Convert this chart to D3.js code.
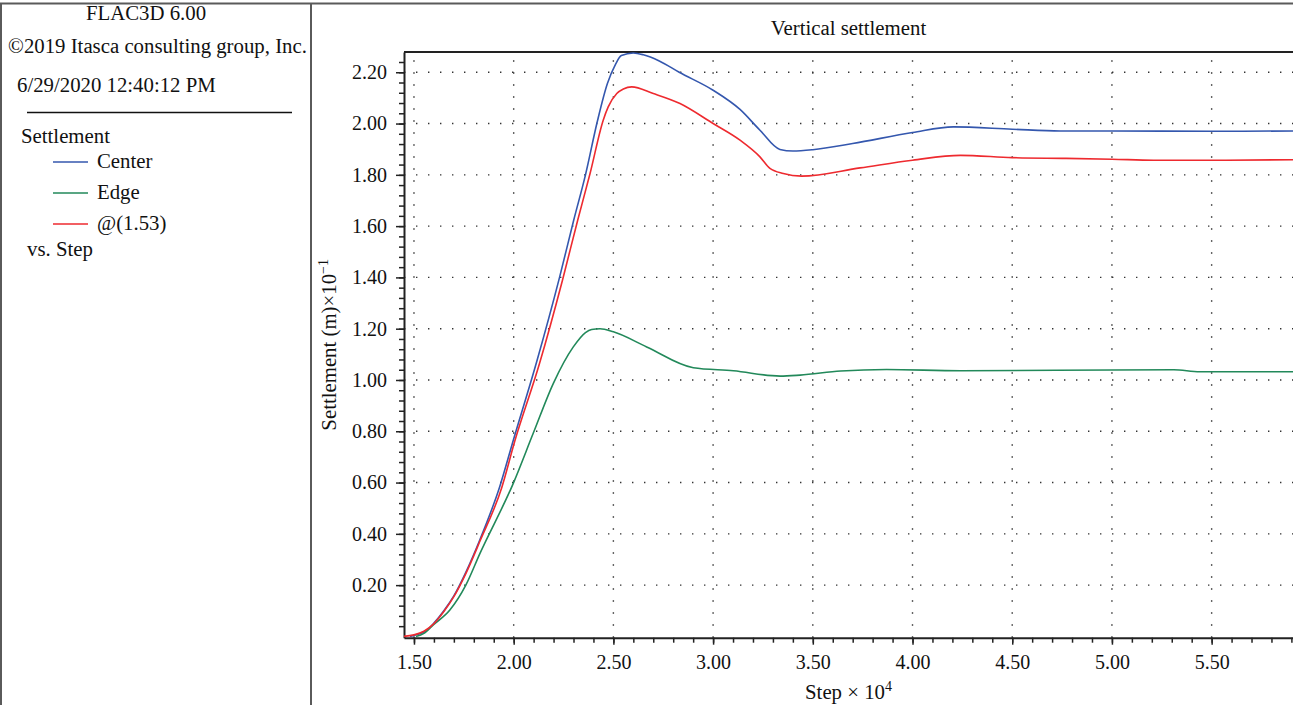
<!DOCTYPE html>
<html>
<head>
<meta charset="utf-8">
<script src="https://cdn.jsdelivr.net/npm/d3@7"></script>
<style>
  html, body { margin: 0; padding: 0; background: #fff; }
  svg { display: block; }
  text { font-family: "Liberation Serif", "DejaVu Serif", serif; fill: #111; }
</style>
</head>
<body>
<svg id="chart" width="1293" height="705"></svg>
<script>
// ---- Data ----
const seriesNames = ["Center", "Edge", "@(1.53)"];
const seriesColors = ["#3457ae", "#22895a", "#ee2a2f"];

const centerSteps = [1.48,1.52,1.56,1.60,1.65,1.70,1.76,1.83,1.93,2.00,2.115,2.23,2.30,2.36,2.42,2.47,2.51,2.54,2.60,2.65,2.73,2.83,3.00,3.135,3.235,3.335,3.40,3.50,3.70,4.00,4.205,4.50,4.74,5.00,5.50,5.91];
const centerValues = [0,0.008,0.022,0.052,0.10,0.158,0.25,0.376,0.584,0.77,1.07,1.40,1.62,1.80,2.01,2.156,2.23,2.265,2.275,2.268,2.244,2.20,2.13,2.055,1.974,1.899,1.893,1.898,1.922,1.965,1.987,1.978,1.971,1.971,1.970,1.971];

const edgeSteps = [1.51,1.55,1.597,1.68,1.76,1.831,1.998,2.098,2.199,2.299,2.36,2.391,2.433,2.50,2.667,2.901,3.102,3.336,3.436,3.64,3.87,4.24,5.00,5.31,5.44,5.91];
const edgeValues = [0,0.012,0.045,0.103,0.20,0.324,0.597,0.792,0.987,1.129,1.185,1.197,1.20,1.188,1.129,1.048,1.036,1.015,1.019,1.035,1.041,1.036,1.039,1.040,1.032,1.032];

const atSteps = [1.45,1.50,1.55,1.60,1.65,1.70,1.76,1.83,1.94,2.005,2.128,2.245,2.321,2.383,2.449,2.474,2.517,2.55,2.592,2.70,2.834,3.00,3.135,3.235,3.285,3.352,3.444,3.737,4.00,4.24,4.50,4.77,5.00,5.21,5.50,5.91];
const atValues = [0,0.006,0.02,0.05,0.097,0.155,0.245,0.37,0.58,0.76,1.06,1.39,1.623,1.805,2.013,2.065,2.117,2.135,2.143,2.117,2.078,2.00,1.935,1.87,1.825,1.805,1.795,1.827,1.857,1.876,1.867,1.864,1.861,1.857,1.857,1.859];

const xMajorTicks = [1.5,2.0,2.5,3.0,3.5,4.0,4.5,5.0,5.5];
const yMajorTicks = [0.2,0.4,0.6,0.8,1.0,1.2,1.4,1.6,1.8,2.0,2.2];
const xDomain = [1.45, 5.908];
const yDomain = [-0.005, 2.279];

const headerLines = ["FLAC3D 6.00", "©2019 Itasca consulting group, Inc.", "6/29/2020 12:40:12 PM"];
const legendTitle = "Settlement";
const legendFooter = "vs. Step";
const chartTitle = "Vertical settlement";

// ---- Layout ----
const svg = d3.select("#chart");
const W = 1293, H = 705;
const plot = { left: 404, right: 1293, top: 52, bottom: 637.7 };

const x = d3.scaleLinear().domain(xDomain).range([plot.left, plot.right]);
const y = d3.scaleLinear().domain(yDomain).range([plot.bottom, plot.top]);

// frame
const frame = svg.append("g").attr("stroke", "#5a5a5a").attr("stroke-width", 2).attr("fill", "none");
frame.append("line").attr("x1", 0).attr("x2", W).attr("y1", 3.5).attr("y2", 3.5);
frame.append("line").attr("x1", 1).attr("x2", 1).attr("y1", 3.5).attr("y2", H);
frame.append("line").attr("x1", 311).attr("x2", 311).attr("y1", 3.5).attr("y2", H);

// left panel text
const fs = 20, fsL = 20.8;
svg.append("text").attr("x", 146).attr("y", 20).attr("text-anchor", "middle").attr("font-size", fsL).text(headerLines[0]);
svg.append("text").attr("x", 157.5).attr("y", 53).attr("text-anchor", "middle").attr("font-size", fsL).text(headerLines[1]);
svg.append("text").attr("x", 17).attr("y", 92).attr("font-size", fsL).text(headerLines[2]);
svg.append("line").attr("x1", 27).attr("x2", 292).attr("y1", 112.5).attr("y2", 112.5).attr("stroke", "#111").attr("stroke-width", 1.3);
svg.append("text").attr("x", 21).attr("y", 143).attr("font-size", fsL).text(legendTitle);
const legendY = [162, 193, 224];
seriesNames.forEach((n, i) => {
  svg.append("line").attr("x1", 53).attr("x2", 88).attr("y1", legendY[i]).attr("y2", legendY[i])
    .attr("stroke", seriesColors[i]).attr("stroke-width", 1.5);
  svg.append("text").attr("x", 97).attr("y", legendY[i] + 6).attr("font-size", fsL).text(n);
});
svg.append("text").attr("x", 27).attr("y", 256).attr("font-size", fsL).text(legendFooter);

// grid (dotted)
const grid = svg.append("g").attr("stroke", "#333").attr("stroke-width", 1.4).attr("stroke-dasharray", "1.4,10.6");
grid.selectAll(".vg").data(xMajorTicks).join("line")
  .attr("x1", d => x(d)).attr("x2", d => x(d)).attr("y1", plot.bottom).attr("y2", plot.top);
grid.selectAll(".hg").data(yMajorTicks).join("line")
  .attr("x1", plot.left).attr("x2", plot.right).attr("y1", d => y(d)).attr("y2", d => y(d));

// axes
const xMinor = d3.range(15, 60).map(v => v / 10);
const yMinor = d3.range(1, 57).map(v => +(v * 0.04).toFixed(2));

const gxMinor = svg.append("g").attr("transform", `translate(0,${plot.bottom})`)
  .call(d3.axisBottom(x).tickValues(xMinor).tickSize(5).tickFormat(""));
const gx = svg.append("g").attr("transform", `translate(0,${plot.bottom})`)
  .call(d3.axisBottom(x).tickValues(xMajorTicks).tickSize(7).tickSizeOuter(0).tickPadding(10).tickFormat(d3.format(".2f")));
const gyMinor = svg.append("g").attr("transform", `translate(${plot.left},0)`)
  .call(d3.axisLeft(y).tickValues(yMinor).tickSize(5).tickFormat(""));
const gy = svg.append("g").attr("transform", `translate(${plot.left},0)`)
  .call(d3.axisLeft(y).tickValues(yMajorTicks).tickSize(8).tickSizeOuter(0).tickPadding(9).tickFormat(d3.format(".2f")));

[gxMinor, gx, gyMinor, gy].forEach(g => {
  g.selectAll("path.domain").attr("stroke", "#222").attr("stroke-width", 2);
  g.selectAll(".tick line").attr("stroke", "#222").attr("stroke-width", 1.5);
  g.selectAll(".tick text").attr("font-size", fs).attr("font-family", "Liberation Serif, serif").attr("fill", "#111");
});
gxMinor.select("path.domain").remove();
gyMinor.select("path.domain").remove();

// top border of plot
svg.append("line").attr("x1", plot.left).attr("x2", plot.right).attr("y1", plot.top).attr("y2", plot.top)
  .attr("stroke", "#222").attr("stroke-width", 2);

// curves
const series = [
  { xs: centerSteps, ys: centerValues, color: seriesColors[0] },
  { xs: edgeSteps, ys: edgeValues, color: seriesColors[1] },
  { xs: atSteps, ys: atValues, color: seriesColors[2] }
];
const line = d3.line().x(d => x(d[0])).y(d => y(d[1])).curve(d3.curveMonotoneX);
const curves = svg.append("g");
series.forEach(s => {
  curves.append("path").datum(s.xs.map((v, i) => [v, s.ys[i]]))
    .attr("d", line).attr("fill", "none").attr("stroke", s.color).attr("stroke-width", 1.6);
});

// titles
svg.append("text").attr("x", (plot.left + plot.right) / 2).attr("y", 35).attr("text-anchor", "middle")
  .attr("font-size", fsL).text(chartTitle);

const xl = svg.append("text").attr("x", (plot.left + plot.right) / 2).attr("y", 699).attr("text-anchor", "middle").attr("font-size", fsL);
xl.append("tspan").text("Step × 10");
xl.append("tspan").attr("dy", -8).attr("font-size", 14).text("4");

const yl = svg.append("text").attr("transform", `translate(336,${(plot.top + plot.bottom) / 2}) rotate(-90)`)
  .attr("text-anchor", "middle").attr("font-size", fsL);
yl.append("tspan").text("Settlement (m)×10");
yl.append("tspan").attr("dy", -8).attr("font-size", 14).text("−1");
</script>
</body>
</html>
